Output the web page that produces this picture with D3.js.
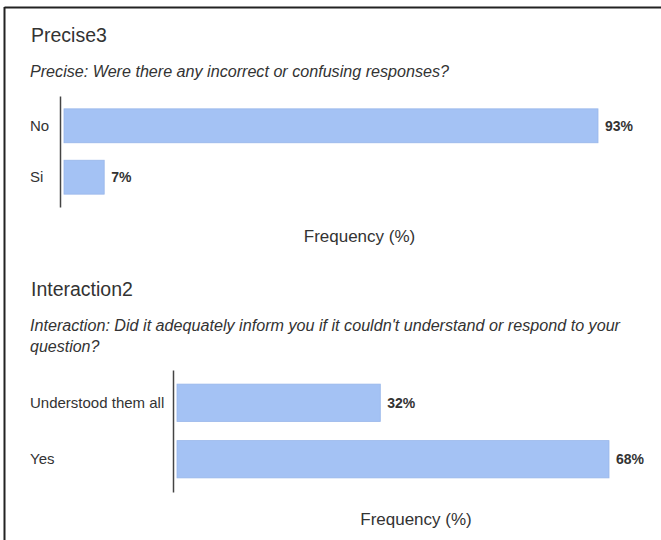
<!DOCTYPE html>
<html>
<head>
<meta charset="utf-8">
<script src="https://cdn.jsdelivr.net/npm/d3@7"></script>
<style>
  html, body { margin: 0; padding: 0; background: #fff; }
  svg { display: block; }
  text { font-family: "Liberation Sans", Arial, sans-serif; fill: #333; }
</style>
</head>
<body>
<svg id="chart" width="661" height="540"></svg>
<script>
// ---- data ----
const titles = ["Precise3", "Interaction2"];
const questions = [
  ["Precise: Were there any incorrect or confusing responses?"],
  ["Interaction: Did it adequately inform you if it couldn't understand or respond to your", "question?"]
];
const categories1 = ["No", "Si"];
const values1 = [93, 7];
const categories2 = ["Understood them all", "Yes"];
const values2 = [32, 68];
const axisTitle = "Frequency (%)";

// ---- layout ----
const svg = d3.select("#chart");

// frame
svg.append("line").attr("x1", 4.5).attr("x2", 661).attr("y1", 7.5).attr("y2", 7.5)
  .attr("stroke", "#222").attr("stroke-width", 2);
svg.append("line").attr("x1", 4.5).attr("x2", 4.5).attr("y1", 7).attr("y2", 540)
  .attr("stroke", "#222").attr("stroke-width", 2);

const panels = [
  { title: titles[0], q: questions[0], cats: categories1, vals: values1,
    titleY: 42, qY: [77], qW: [419], axisX: 60, x0: 64, x1: 598, y0: 96, y1: 207, axTitleY: 242 },
  { title: titles[1], q: questions[1], cats: categories2, vals: values2,
    titleY: 296, qY: [331, 352], qW: [590, null], axisX: 173, x0: 177, x1: 609, y0: 370, y1: 492, axTitleY: 525 }
];

panels.forEach(p => {
  const g = svg.append("g");
  g.append("text").attr("x", 31).attr("y", p.titleY)
    .attr("font-size", 19.5).text(p.title);

  p.q.forEach((line, i) => {
    const t = g.append("text").attr("x", 30).attr("y", p.qY[i])
      .attr("font-size", 16).attr("font-style", "italic").text(line);
    if (p.qW[i]) t.attr("textLength", p.qW[i]).attr("lengthAdjust", "spacingAndGlyphs");
  });

  const x = d3.scaleLinear().domain([0, d3.max(p.vals)]).range([p.x0, p.x1]);
  const y = d3.scaleBand().domain(p.cats).range([p.y0, p.y1])
    .paddingInner(0.34).paddingOuter(0.25);

  const data = p.cats.map((c, i) => ({ c, v: p.vals[i] }));

  g.selectAll("rect.bar").data(data).join("rect")
    .attr("class", "bar")
    .attr("x", x(0))
    .attr("y", d => y(d.c))
    .attr("width", d => x(d.v) - x(0))
    .attr("height", y.bandwidth())
    .attr("fill", "#a4c2f4")
    .attr("stroke", "#98b6ea")
    .attr("stroke-width", 0.8);

  // category axis (left)
  const yAxis = d3.axisLeft(y).tickSize(0).tickPadding(0);
  const ax = g.append("g").attr("transform", `translate(${p.axisX},0)`).call(yAxis);
  ax.select(".domain").attr("stroke", "#444").attr("stroke-width", 1.5);
  ax.selectAll(".tick text")
    .attr("x", 30 - p.axisX)
    .attr("text-anchor", "start")
    .attr("font-size", 15)
    .attr("font-family", '"Liberation Sans", Arial, sans-serif')
    .attr("fill", "#333");

  // value labels
  g.selectAll("text.val").data(data).join("text")
    .attr("class", "val")
    .attr("x", d => x(d.v) + 7)
    .attr("y", d => y(d.c) + y.bandwidth() / 2)
    .attr("dy", "0.35em")
    .attr("font-size", 14)
    .attr("font-weight", "bold")
    .style("fill", "#333")
    .text(d => d.v + "%");

  g.append("text")
    .attr("x", (p.x0 + 655) / 2)
    .attr("y", p.axTitleY)
    .attr("text-anchor", "middle")
    .attr("font-size", 17)
    .text(axisTitle);
});
</script>
</body>
</html>
